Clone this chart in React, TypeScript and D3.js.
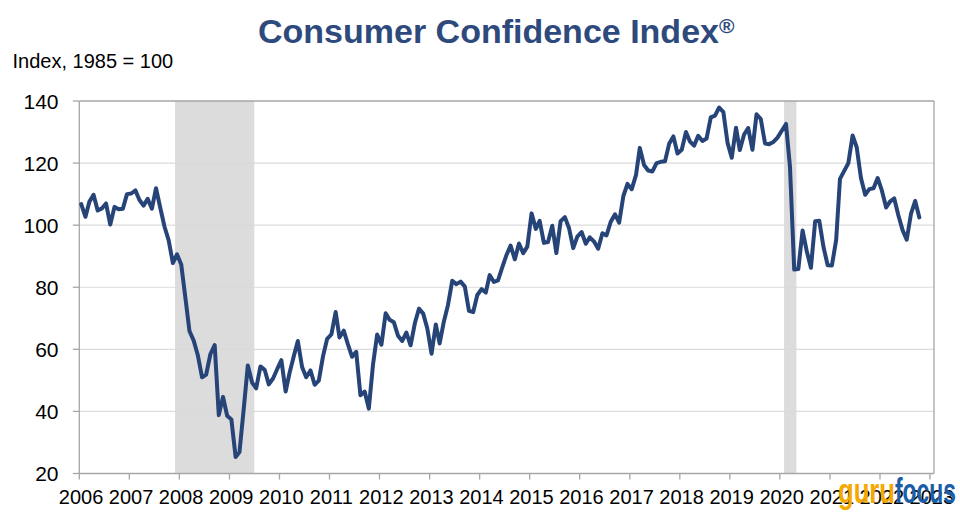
import React from "react";
import * as d3 from "d3";

// Monthly Consumer Confidence Index values, Jan 2006 – Oct 2022
const years = [2006, 2007, 2008, 2009, 2010, 2011, 2012, 2013, 2014, 2015, 2016, 2017, 2018, 2019, 2020, 2021, 2022];
const v2006 = [106.8, 102.7, 107.5, 109.8, 104.7, 105.4, 107.0, 100.2, 105.9, 105.1, 105.3, 110.0];
const v2007 = [110.2, 111.2, 108.2, 106.3, 108.5, 105.3, 111.9, 105.6, 99.5, 95.2, 87.8, 90.6];
const v2008 = [87.3, 76.4, 65.9, 62.8, 58.1, 51.0, 51.9, 58.5, 61.4, 38.8, 44.7, 38.6];
const v2009 = [37.4, 25.3, 26.9, 40.8, 54.8, 49.3, 47.4, 54.5, 53.4, 48.7, 50.6, 53.6];
const v2010 = [56.5, 46.4, 52.3, 57.7, 62.7, 54.3, 51.0, 53.2, 48.6, 49.9, 57.8, 63.4];
const v2011 = [64.8, 72.0, 63.8, 66.0, 61.7, 57.6, 59.2, 45.2, 46.4, 40.9, 55.2, 64.8];
const v2012 = [61.5, 71.6, 69.5, 68.7, 64.4, 62.7, 65.4, 61.3, 68.4, 73.1, 71.5, 66.7];
const v2013 = [58.6, 68.0, 61.9, 69.0, 74.3, 82.1, 81.0, 81.8, 80.2, 72.4, 72.0, 77.5];
const v2014 = [79.4, 78.3, 83.9, 81.7, 82.2, 86.4, 90.3, 93.4, 89.0, 94.1, 91.0, 93.1];
const v2015 = [103.8, 98.8, 101.4, 94.3, 94.6, 99.8, 91.0, 101.3, 102.6, 99.1, 92.6, 96.3];
const v2016 = [97.8, 94.0, 96.1, 94.7, 92.4, 97.4, 96.7, 101.1, 103.5, 100.8, 109.4, 113.3];
const v2017 = [111.6, 116.1, 124.9, 119.4, 117.6, 117.3, 120.0, 120.4, 120.6, 126.2, 128.6, 123.1];
const v2018 = [124.3, 130.0, 127.0, 125.6, 128.8, 127.1, 127.9, 134.7, 135.3, 137.9, 136.4, 126.6];
const v2019 = [121.7, 131.4, 124.2, 129.2, 131.3, 124.3, 135.7, 134.2, 126.3, 126.1, 126.8, 128.2];
const v2020 = [130.4, 132.6, 118.8, 85.7, 85.9, 98.3, 91.7, 86.3, 101.3, 101.4, 92.9, 87.1];
const v2021 = [87.0, 95.2, 114.9, 117.5, 120.0, 128.9, 125.1, 115.2, 109.8, 111.6, 111.9, 115.2];
const v2022 = [111.1, 105.7, 107.6, 108.6, 103.2, 98.4, 95.3, 103.6, 107.8, 102.5];
const seriesByYear = [v2006, v2007, v2008, v2009, v2010, v2011, v2012, v2013, v2014, v2015, v2016, v2017, v2018, v2019, v2020, v2021, v2022];

// Recessions [start month, end month (exclusive)]
const recessionStarts = ["2007-12-01", "2020-02-01"];
const recessionEnds = ["2009-07-01", "2020-05-01"];

const yTicks = [20, 40, 60, 80, 100, 120, 140];
const xTickYears = [2006, 2007, 2008, 2009, 2010, 2011, 2012, 2013, 2014, 2015, 2016, 2017, 2018, 2019, 2020, 2021, 2022, 2023];

const FONT = "'Liberation Sans', Arial, Helvetica, sans-serif";

export default function App() {
  const W = 960, H = 515;
  const left = 79.3, right = 930, top = 101, bottom = 473.5, boxRight = 934;

  const x = d3.scaleTime()
    .domain([new Date(2006, 0, 1), new Date(2023, 0, 1)])
    .range([left, right]);
  const y = d3.scaleLinear().domain([20, 140]).range([bottom, top]);

  const data: { date: Date; value: number }[] = [];
  seriesByYear.forEach((arr, i) => {
    arr.forEach((v, m) => data.push({ date: new Date(years[i], m, 15), value: v }));
  });

  const line = d3.line<{ date: Date; value: number }>()
    .x((d) => x(d.date))
    .y((d) => y(d.value));

  const gridColor = "#d9d9d9";
  const axisColor = "#a6a6a6";

  return (
    <svg width={W} height={H} style={{ position: "absolute", left: 0, top: 0, background: "#fff" }} fontFamily={FONT}>
      <rect x={0} y={0} width={W} height={H} fill="#fff" />
      {/* Title */}
      <text x={258} y={42.7} fontSize={34} fontWeight="bold" fill="#2E4A7D">
        Consumer Confidence Index
        <tspan fontSize={21} dy={-10}>®</tspan>
      </text>
      <text x={12.5} y={68.3} fontSize={20} fill="#000">Index, 1985 = 100</text>

      {/* Recession shading */}
      {recessionStarts.map((s, i) => {
        const x0 = x(new Date(s));
        const x1 = x(new Date(recessionEnds[i]));
        return <rect key={s} x={x0} y={top} width={x1 - x0} height={bottom - top} fill="#dcdcdc" />;
      })}

      {/* Gridlines */}
      {yTicks.filter((t) => t !== 20 && t !== 140).map((t) => (
        <line key={t} x1={left} x2={boxRight} y1={y(t)} y2={y(t)} stroke={gridColor} strokeWidth={1.2} opacity={0.9} />
      ))}

      {/* Plot frame */}
      <line x1={left} x2={boxRight} y1={top} y2={top} stroke={axisColor} strokeWidth={1.3} />
      <line x1={boxRight} x2={boxRight} y1={top} y2={bottom} stroke={axisColor} strokeWidth={1.3} />
      <line x1={left} x2={left} y1={top} y2={bottom} stroke={axisColor} strokeWidth={1.3} />
      <line x1={left} x2={boxRight} y1={bottom} y2={bottom} stroke={axisColor} strokeWidth={1.3} />

      {/* Y ticks and labels */}
      {yTicks.map((t) => (
        <g key={t}>
          <line x1={left - 6.5} x2={left} y1={y(t)} y2={y(t)} stroke={axisColor} strokeWidth={1.3} />
          <text x={58.5} y={y(t) + 7.8} fontSize={21} textAnchor="end" fill="#000">{t}</text>
        </g>
      ))}

      {/* X ticks and labels */}
      {xTickYears.map((yr) => {
        const xx = x(new Date(yr, 0, 1));
        return (
          <g key={yr}>
            <line x1={xx} x2={xx} y1={bottom} y2={bottom + 6} stroke={axisColor} strokeWidth={1.3} />
            <text x={xx + 1.8} y={504} fontSize={20} textAnchor="middle" fill="#000">{yr}</text>
          </g>
        );
      })}

      {/* Series */}
      <path d={line(data) || ""} fill="none" stroke="#264478" strokeWidth={4} strokeLinejoin="round" strokeLinecap="round" />

      {/* Watermark */}
      <text x={838} y={503} fontSize={35} fontWeight="bold" fill="#F5A800" textLength={57} lengthAdjust="spacingAndGlyphs">guru</text>
      <text x={895} y={503} fontSize={35} fontWeight="bold" fill="#1B5EA8" textLength={61} lengthAdjust="spacingAndGlyphs">focus</text>
    </svg>
  );
}
